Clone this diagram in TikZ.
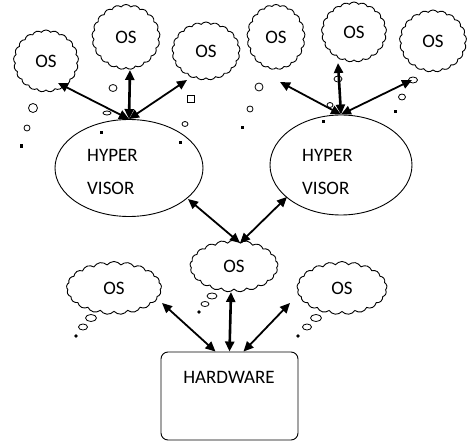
\documentclass[tikz,border=0pt]{standalone}
\usepackage{fontspec}
\setmainfont{Carlito}
\usetikzlibrary{shapes.symbols,shapes.geometric,arrows.meta,calc}
\begin{document}
\begin{tikzpicture}[x=1pt,y=-1pt,
  os/.style={cloud, cloud puffs=21, cloud puff arc=105, cloud ignores aspect, draw, line width=0.9pt, inner sep=0pt, font=\fontsize{19}{19}\selectfont},
  hyp/.style={ellipse, draw, line width=0.9pt, inner sep=0pt},
  lbl/.style={font=\fontsize{19}{33}\selectfont, align=left, inner sep=0pt},
  hwbox/.style={draw, rounded corners=7pt, line width=0.9pt, inner sep=0pt},
  link/.style={{Triangle[length=10pt,width=9pt]}-{Triangle[length=10pt,width=9pt]}, line width=1.8pt},
  vlink/.style={link, line width=2.6pt},
  bub/.style={line width=0.8pt},
  speck/.style={fill=black, draw=none}
]
\useasboundingbox (0,0) rectangle (467,441);

% top clouds
\node[os, minimum width=65, minimum height=62] (osA) at (46,61) {OS};
\node[os, minimum width=68, minimum height=65] (osB) at (126,37) {OS};
\node[os, minimum width=68, minimum height=58] (osC) at (206,51) {OS};
\node[os, minimum width=58, minimum height=65] (osD) at (276,37) {OS};
\node[os, minimum width=65, minimum height=60] (osE) at (354,32) {OS};
\node[os, minimum width=67, minimum height=62] (osF) at (433,41) {OS};

% hypervisors
\node[hyp, minimum width=148, minimum height=97] (h1) at (129,168) {};
\node[lbl, anchor=west] (h1t) at (87,171.5) {HYPER\\VISOR};
\node[hyp, minimum width=142, minimum height=100] (h2) at (341,165) {};
\node[lbl, anchor=west] (h2t) at (302,171.5) {HYPER\\VISOR};

% lower clouds
\node[os, minimum width=88, minimum height=52] (osM) at (234,266) {OS};
\node[os, minimum width=95, minimum height=53] (osL) at (114,288) {OS};
\node[os, minimum width=90, minimum height=53] (osR) at (342,288) {OS};

% hardware
\node[hwbox, minimum width=137, minimum height=88] (hw) at (229.5,396) {};
\node[font=\fontsize{19}{19}\selectfont, inner sep=0pt] (hwt) at (229,377) {HARDWARE};

% links hypervisor 1
\draw[link] (h1.north) -- ($(osA.center)+(12,22)$);
\draw[vlink] (h1.north) -- ($(osB.center)+(4,33)$);
\draw[link] (h1.north) -- ($(osC.center)+(-19,29)$);
% links hypervisor 2
\draw[link] (h2.north) -- ($(osD.center)+(4,45)$);
\draw[vlink] (h2.north) -- ($(osE.center)+(-16,31)$);
\draw[link] (h2.north) -- ($(osF.center)+(-21,39)$);
% links to the middle cloud
\draw[link] ($(h1.center)+(59,31)$) -- ($(osM.center)+(6,-23)$);
\draw[link] ($(h2.center)+(-54,32)$) -- ($(osM.center)+(6,-23)$);
% links from hardware
\draw[link] ($(hw.north)+(-14,0)$) -- ($(osL.center)+(48,15)$);
\draw[vlink] (hw.north) -- ($(osM.center)+(-3,26)$);
\draw[link] ($(hw.north)+(14,0)$) -- ($(osR.center)+(-52,15)$);

% thought bubbles, top left
\draw[bub] (33,108) circle (4.5);
\draw[bub] (27,128) circle (3);
\fill[speck] (20,144) rectangle (23,148);
\draw[bub] (113,88) ellipse [x radius=4, y radius=3.5];
\draw[bub] (107,113) ellipse [x radius=4, y radius=2];
\draw[bub] (187.5,95.5) rectangle (194.5,102.5);
\draw[bub] (185,124) ellipse [x radius=3, y radius=2.5];
\fill[speck] (99.5,131.5) rectangle (102.5,134.5);
\fill[speck] (178.5,141.5) rectangle (181.5,144.5);
% thought bubbles, top right
\draw[bub] (259,87) circle (4);
\draw[bub] (250,109) circle (3);
\fill[speck] (240.5,126.5) rectangle (243.5,129.5);
\draw[bub] (338,79) ellipse [x radius=4, y radius=3];
\draw[bub] (330,105) ellipse [x radius=3, y radius=2.5];
\fill[speck] (321.5,120.5) rectangle (324.5,123.5);
\draw[bub] (413,80) ellipse [x radius=4.5, y radius=3];
\draw[bub] (402,97) ellipse [x radius=3.5, y radius=3];
\fill[speck] (393.5,110.5) rectangle (396.5,113.5);
% thought bubble tails, lower clouds
\draw[bub] (212,296) ellipse [x radius=5, y radius=3];
\draw[bub] (205,304) ellipse [x radius=4, y radius=2.5];
\fill[speck] (199,312) circle (1.8);
\draw[bub] (91,318) ellipse [x radius=5.5, y radius=3.5];
\draw[bub] (83,327) ellipse [x radius=4.5, y radius=3];
\fill[speck] (76,336) circle (1.8);
\draw[bub] (316,318) ellipse [x radius=5.5, y radius=3.5];
\draw[bub] (307,327) ellipse [x radius=4.5, y radius=3];
\fill[speck] (298,336) circle (1.8);
\end{tikzpicture}
\end{document}
